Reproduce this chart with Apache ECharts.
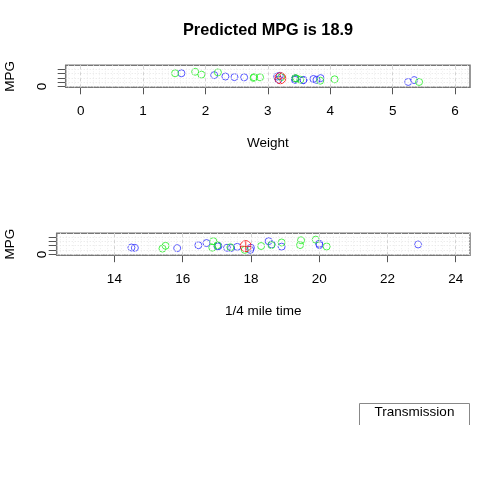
<!DOCTYPE html>
<html><head><meta charset="utf-8">
<script src="https://cdn.jsdelivr.net/npm/echarts@6/dist/echarts.min.js"></script>
<style>html,body{margin:0;padding:0;background:#fff}#c{width:504px;height:504px}</style>
</head><body><div id="c"></div>
<script>
// mtcars values (weight in 1000 lbs, 1/4 mile time in s, mpg), colour group
const wt   = [2.620,2.875,2.320,3.215,3.440,3.460,3.570,3.190,3.150,3.440,3.440,4.070,3.730,3.780,5.250,5.424,5.345,2.200,1.615,1.835,2.465,3.520,3.435,3.840,3.845,1.935,2.140,1.513,3.170,2.770,3.570,2.780];
const qsec = [16.46,17.02,18.61,19.44,17.02,20.22,15.84,20.00,22.90,18.30,18.90,17.40,17.60,18.00,17.98,17.82,17.42,19.47,18.52,19.90,20.01,16.87,17.30,15.41,17.05,18.90,16.70,16.90,14.50,15.50,14.60,18.60];
const mpg  = [21.0,21.0,22.8,21.4,18.7,18.1,14.3,24.4,22.8,19.2,17.8,16.4,17.3,15.2,10.4,10.4,14.7,32.4,30.4,33.9,21.5,15.5,15.2,13.3,19.2,27.3,26.0,30.4,15.8,19.7,15.0,21.4];
const group= ['B','G','B','G','B','G','B','B','B','G','B','G','B','B','B','G','B','G','B','G','B','G','B','G','B','G','B','G','B','G','B','G'];
const predWt = 3.2, predQsec = 17.85, predMpg = 18.9;
const titleText = 'Predicted MPG is ' + predMpg;
const wtTicks = [0,1,2,3,4,5,6];
const qsecTicks = [14,16,18,20,22,24];
const mpgTicks = [0,10,20,30,40];
const mpgLabels = [0];

const FONT = '"Liberation Sans", Arial, sans-serif';
const FS = 13.5;
const BLUE = '#2f2fff', GREEN = '#22ee22', RED = '#ff0000';

function pts(xs, g) {
  const out = [];
  for (let i = 0; i < xs.length; i++) if (group[i] === g) out.push([xs[i], mpg[i]]);
  return out;
}
function gridLines(minorFrom, minorTo, step, majors, hvals, xi) {
  const d = [];
  const n = Math.round((minorTo - minorFrom) / step);
  for (let k = 0; k <= n; k++) {
    const v = +(minorFrom + k * step).toFixed(3);
    d.push({xAxis: v, lineStyle: {color: '#eeeeee', type: [1, 2], width: 1}});
  }
  hvals.forEach(v => d.push({yAxis: v, lineStyle: {color: '#e4e4e4', type: [1, 2], width: 1}}));
  majors.forEach(v => d.push({xAxis: v, lineStyle: {color: '#d2d2d2', type: [3, 3], width: 1}}));
  return {
    type: 'scatter', xAxisIndex: xi, yAxisIndex: xi, data: [], silent: true, z: 1,
    markLine: {silent: true, symbol: 'none', label: {show: false}, animation: false, data: d}
  };
}
const circlePlus = 'path://M0,10A10,10 0 1,1 20,10A10,10 0 1,1 0,10ZM10,0L10,20M0,10L20,10';

function scat(data, color, xi) {
  return {type: 'scatter', xAxisIndex: xi, yAxisIndex: xi, data: data, symbol: 'circle', symbolSize: 7, z: 3,
    itemStyle: {color: 'transparent', borderColor: color, borderWidth: 1}};
}

const xAxisCommon = {
  type: 'value', axisLine: {show: false, onZero: false}, splitLine: {show: false},
  axisTick: {show: true, length: 7, lineStyle: {color: '#555', width: 1}},
  axisLabel: {color: '#000', fontFamily: FONT, fontSize: FS, margin: 17},
  nameLocation: 'middle', nameTextStyle: {color: '#000', fontFamily: FONT, fontSize: FS}
};
const yAxisCommon = {
  type: 'value', min: -1.9, max: 48.7, axisLine: {show: false, onZero: false}, splitLine: {show: false},
  axisTick: {show: true, length: 8, customValues: mpgTicks, lineStyle: {color: '#555', width: 1}},
  axisLabel: {customValues: mpgLabels, rotate: 90, color: '#000', fontFamily: FONT, fontSize: FS, margin: 16},
  name: 'MPG', nameLocation: 'middle', nameGap: 48,
  nameTextStyle: {color: '#000', fontFamily: FONT, fontSize: FS}
};

const chart = echarts.init(document.getElementById('c'), null, {renderer: 'canvas'});
chart.setOption({
  animation: false,
  backgroundColor: '#fff',
  title: {text: titleText, left: 268, top: 23, textAlign: 'center', padding: 0,
    textStyle: {fontFamily: FONT, fontSize: 16.3, fontWeight: 'bold', color: '#000'}},
  grid: [
    {left: 65.7, top: 65.3, width: 404.3, height: 22, show: true, borderColor: '#777', borderWidth: 1.5, backgroundColor: 'transparent', outerBoundsMode: 'none', containLabel: false},
    {left: 56.7, top: 233.2, width: 413.3, height: 22, show: true, borderColor: '#777', borderWidth: 1.5, backgroundColor: 'transparent', outerBoundsMode: 'none', containLabel: false}
  ],
  xAxis: [
    Object.assign({}, xAxisCommon, {gridIndex: 0, min: -0.24, max: 6.24, name: 'Weight', nameGap: 49,
      axisTick: Object.assign({}, xAxisCommon.axisTick, {customValues: wtTicks}),
      axisLabel: Object.assign({}, xAxisCommon.axisLabel, {customValues: wtTicks})}),
    Object.assign({}, xAxisCommon, {gridIndex: 1, min: 12.31, max: 24.42, name: '1/4 mile time', nameGap: 49,
      axisTick: Object.assign({}, xAxisCommon.axisTick, {customValues: qsecTicks}),
      axisLabel: Object.assign({}, xAxisCommon.axisLabel, {customValues: qsecTicks})})
  ],
  yAxis: [
    Object.assign({}, yAxisCommon, {gridIndex: 0}),
    Object.assign({}, yAxisCommon, {gridIndex: 1, nameGap: 39,
      axisLabel: Object.assign({}, yAxisCommon.axisLabel, {margin: 7})})
  ],
  series: [
    gridLines(-0.2, 6.2, 0.1, wtTicks, [0,10,20,30,40], 0),
    gridLines(12.4, 24.4, 0.2, qsecTicks, [0,10,20,30,40], 1),
    scat(pts(wt, 'B'), BLUE, 0),
    scat(pts(wt, 'G'), GREEN, 0),
    scat(pts(qsec, 'B'), BLUE, 1),
    scat(pts(qsec, 'G'), GREEN, 1),
    {type: 'scatter', xAxisIndex: 0, yAxisIndex: 0, data: [[predWt, predMpg]], symbol: circlePlus, symbolSize: 11, z: 4,
      itemStyle: {color: 'transparent', borderColor: RED, borderWidth: 1}},
    {type: 'scatter', xAxisIndex: 1, yAxisIndex: 1, data: [[predQsec, predMpg]], symbol: circlePlus, symbolSize: 11, z: 4,
      itemStyle: {color: 'transparent', borderColor: RED, borderWidth: 1}}
  ],
  graphic: [
    {type: 'polyline', silent: true, shape: {points: [[359.5, 425], [359.5, 403.5], [469.5, 403.5], [469.5, 425]]},
      style: {stroke: '#888', lineWidth: 1, fill: null}},
    {type: 'text', silent: true, x: 414.5, y: 412.5,
      style: {text: 'Transmission', fontFamily: FONT, fontSize: FS, fill: '#000', align: 'center', verticalAlign: 'middle'}}
  ]
});
</script>
</body></html>
